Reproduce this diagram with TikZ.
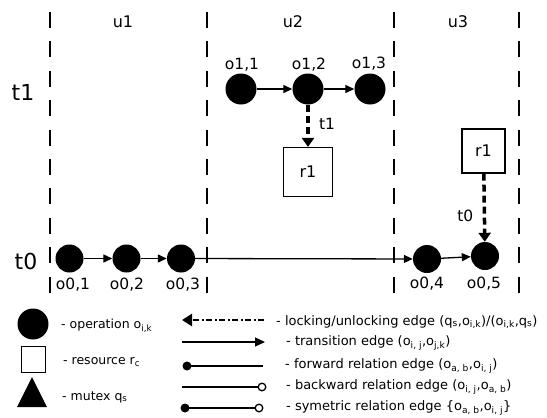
\documentclass[tikz,border=0pt]{standalone}
\usepackage{fontspec}
\setmainfont{DejaVu Sans}
\usetikzlibrary{arrows.meta}

\tikzset{
  lane/.style={line width=1.2pt, dash pattern=on 16pt off 13.4pt},
  op/.style={circle, fill=black, inner sep=0pt, minimum size=#1},
  op/.default=29pt,
  res/.style={draw, line width=1.2pt, inner sep=0pt, minimum width=49pt, minimum height=49pt,
    font=\fontsize{16}{18}\selectfont},
  olabel/.style={font=\fontsize{15.5}{18}\selectfont},
  trans/.style={line width=1.3pt, -{Triangle[length=9pt, width=8pt]}},
  lock/.style={line width=3.5pt, dash pattern=on 7pt off 4pt, -{Triangle[length=9pt, width=12pt]}},
  legtext/.style={anchor=west, inner sep=0pt, font=\fontsize{12.5}{14}\selectfont},
  edgetext/.style={anchor=west, inner sep=0pt, font=\fontsize{13}{15}\selectfont},
}

\begin{document}
\begin{tikzpicture}[x=1pt, y=-1pt]
        \useasboundingbox (0,0) rectangle (547,418);
        %% Lanes
        \foreach \x in {50,207,394,519}
          \draw[lane] (\x,12) -- (\x,294);
        \node[font=\fontsize{16}{18}\selectfont] (u1) at (123,22) {u1};
        \node[font=\fontsize{16}{18}\selectfont] (u2) at (293,22) {u2};
        \node[font=\fontsize{16}{18}\selectfont] (u3) at (458,22) {u3};
        \node[font=\fontsize{22}{24}\selectfont] (t1) at (23,92) {t1};
        \node[font=\fontsize{22}{24}\selectfont] (t0) at (26,261) {t0};
        %% Row t1
        \node[op=31pt] (o11) at (241,89) {};
        \node[op=31pt] (o12) at (308,89) {};
        \node[op=31pt] (o13) at (370,89) {};
        \node[olabel] at (242,65) {o1,1};
        \node[olabel] at (309,65) {o1,2};
        \node[olabel] at (369,64) {o1,3};
        \draw[trans] (o11) -- (o12);
        \draw[trans] (o12) -- (o13);
        \node[res] (r1a) at (308,172) {r1};
        \draw[lock] (o12) -- (r1a) node[pos=0.45, right=6pt, olabel] {t1};
        %% Row t0
        \node[op=28pt] (o01) at (69.5,258.5) {};
        \node[op=28pt] (o02) at (126.5,258.5) {};
        \node[op=28pt] (o03) at (181,258.5) {};
        \node[op=28pt] (o04) at (427,259) {};
        \node[op=28pt] (o05) at (485,256) {};
        \node[olabel] at (73,285) {o0,1};
        \node[olabel] at (127,285) {o0,2};
        \node[olabel] at (183,285) {o0,3};
        \node[olabel] at (427,284) {o0,4};
        \node[olabel] at (484,284) {o0,5};
        \draw[trans] (o01) -- (o02);
        \draw[trans] (o02) -- (o03);
        \draw[trans] (o03) -- (o04);
        \draw[trans] (o04) -- (o05);
        \node[res, minimum width=43pt, minimum height=44pt] (r1b) at (483.5,151) {r1};
        \draw[lock] (r1b) -- (o05) node[pos=0.62, left=6pt, olabel] {t0};
        %% Legend, shapes
        \node[op=31pt] (kop) at (33,324) {};
        \node[draw, line width=1.5pt, minimum width=24pt, minimum height=26pt] (kres) at (33.5,359.5) {};
        \fill (17,407) -- (47,407) -- (32,377) -- cycle;
        \node[legtext] at (61,326) {- operation o\textsubscript{i,k}};
        \node[legtext] at (63,362) {- resource r\textsubscript{c}};
        \node[legtext] at (62,397) {- mutex q\textsubscript{s}};
        %% Legend, edges
        \coordinate (l1a) at (182,320); \coordinate (l1b) at (264,320);
        \coordinate (l2a) at (182,342); \coordinate (l2b) at (265,342);
        \coordinate (l3a) at (187,366); \coordinate (l3b) at (263,366);
        \coordinate (l4a) at (182,387); \coordinate (l4b) at (262,387);
        \coordinate (l5a) at (185,408); \coordinate (l5b) at (259,408);
        \draw[line width=2.5pt, dash pattern=on 6pt off 2.5pt on 2pt off 2.5pt, -{Triangle[length=10pt, width=12pt]}] (l1b) -- (l1a);
        \draw[line width=1.3pt, -{Triangle[length=10pt, width=9pt]}] (l2a) -- (l2b);
        \draw[line width=1.3pt] (l3a) -- (l3b);
        \fill (l3a) circle (4.5pt);
        \draw[line width=1.3pt] (l4a) -- (l4b);
        \draw[line width=1.3pt, fill=white] (l4b) circle (3.8pt);
        \draw[line width=1.3pt] (l5a) -- (l5b);
        \fill (l5a) circle (4.5pt);
        \draw[line width=1.3pt, fill=white] (l5b) circle (3.8pt);
        \node[edgetext] at (276,322) {- locking/unlocking edge (q\textsubscript{s},o\textsubscript{i,k})/(o\textsubscript{i,k},q\textsubscript{s})};
        \node[edgetext] at (286,343) {- transition edge (o\textsubscript{i, j},o\textsubscript{j,k})};
        \node[edgetext] at (285,366) {- forward relation edge (o\textsubscript{a, b},o\textsubscript{i, j})};
        \node[edgetext] at (286,387) {- backward relation edge (o\textsubscript{i, j},o\textsubscript{a, b})};
        \node[edgetext] at (286,408) {- symetric relation edge \{o\textsubscript{a, b},o\textsubscript{i, j}\}};
    \end{tikzpicture}
\end{document}
